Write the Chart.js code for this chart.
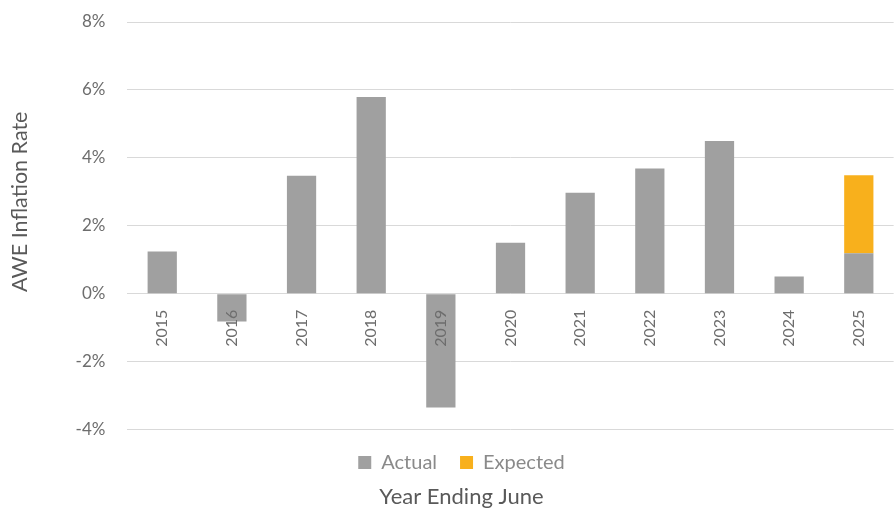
<!DOCTYPE html>
<html>
<head>
<meta charset="utf-8">
<script src="https://cdn.jsdelivr.net/npm/chart.js@4"></script>
<style>
  html, body { margin: 0; padding: 0; background: #fff; }
  #wrap { width: 894px; height: 511px; }
</style>
</head>
<body>
<div id="wrap"><canvas id="aweChart"></canvas></div>
<script>
// 年度 (Year Ending June)
var years = ['2015', '2016', '2017', '2018', '2019', '2020', '2021', '2022', '2023', '2024', '2025'];
// 実績値 (%)
var actual = [1.24, -0.82, 3.47, 5.79, -3.35, 1.5, 2.97, 3.69, 4.5, 0.51, 1.19];
// 予想分 (%)
var expected = [null, null, null, null, null, null, null, null, null, null, 2.3];
var yTicks = [-4, -2, 0, 2, 4, 6, 8];

var fontFamily = 'Lato, "Open Sans", sans-serif';
var yTitle = 'AWE Inflation Rate';

// 縦軸タイトルを少し上にずらして描く
var yTitlePlugin = {
  id: 'yTitle',
  afterDraw: function(chart) {
    var c = chart.ctx;
    var area = chart.chartArea;
    c.save();
    c.translate(20, (area.top + area.bottom) / 2 - 24);
    c.rotate(-Math.PI / 2);
    c.font = '21.5px ' + fontFamily;
    c.fillStyle = '#595959';
    c.textAlign = 'center';
    c.textBaseline = 'middle';
    c.fillText(yTitle, 0, 0);
    c.restore();
  }
};

var ctx = document.getElementById('aweChart').getContext('2d');
var myChart = new Chart(ctx, {
  type: 'bar',
  data: {
    labels: years,
    datasets: [{
      label: 'Actual',
      data: actual,
      backgroundColor: '#a0a0a0',
      barPercentage: 0.42,
      categoryPercentage: 1
    }, {
      label: 'Expected',
      data: expected,
      backgroundColor: '#f8b01c',
      barPercentage: 0.42,
      categoryPercentage: 1
    }]
  },
  plugins: [yTitlePlugin],
  options: {
    responsive: true,
    maintainAspectRatio: false,
    animation: false,
    layout: { padding: { top: 22, right: -7, left: 22, bottom: 0 } },
    plugins: {
      tooltip: { enabled: false },
      legend: {
        position: 'bottom',
        labels: {
          boxWidth: 13,
          boxHeight: 13,
          padding: 23,
          color: '#8a8a8a',
          font: { family: fontFamily, size: 20 }
        }
      },
      title: {
        display: true,
        position: 'bottom',
        text: 'Year Ending June',
        color: '#595959',
        padding: { top: 1, bottom: 1 },
        font: { family: fontFamily, size: 22, weight: 'normal' }
      }
    },
    scales: {
      x: {
        stacked: true,
        position: { y: 0 },
        grid: { display: false, drawTicks: false },
        border: { display: false },
        ticks: {
          z: 1,
          minRotation: 90,
          maxRotation: 90,
          padding: 16,
          color: '#6d6d6d',
          font: { family: fontFamily, size: 16 }
        }
      },
      y: {
        stacked: true,
        min: -4,
        max: 8,
        afterBuildTicks: function(scale) {
          scale.ticks = yTicks.map(function(v) { return { value: v }; });
        },
        afterFit: function(scale) {
          // 目盛りの余白を上下に付けない
          scale.paddingTop = 0;
          scale.paddingBottom = 0;
        },
        grid: { color: '#d9d9d9', lineWidth: 1, drawTicks: false },
        border: { display: false },
        ticks: {
          padding: 22,
          color: '#6d6d6d',
          font: { family: fontFamily, size: 17 },
          callback: function(v) { return v + '%'; }
        },
        title: {
          display: true,
          text: yTitle,
          color: 'rgba(0,0,0,0)',
          padding: { top: 0, bottom: 4 },
          font: { family: fontFamily, size: 23 }
        }
      }
    }
  }
});
</script>
</body>
</html>
